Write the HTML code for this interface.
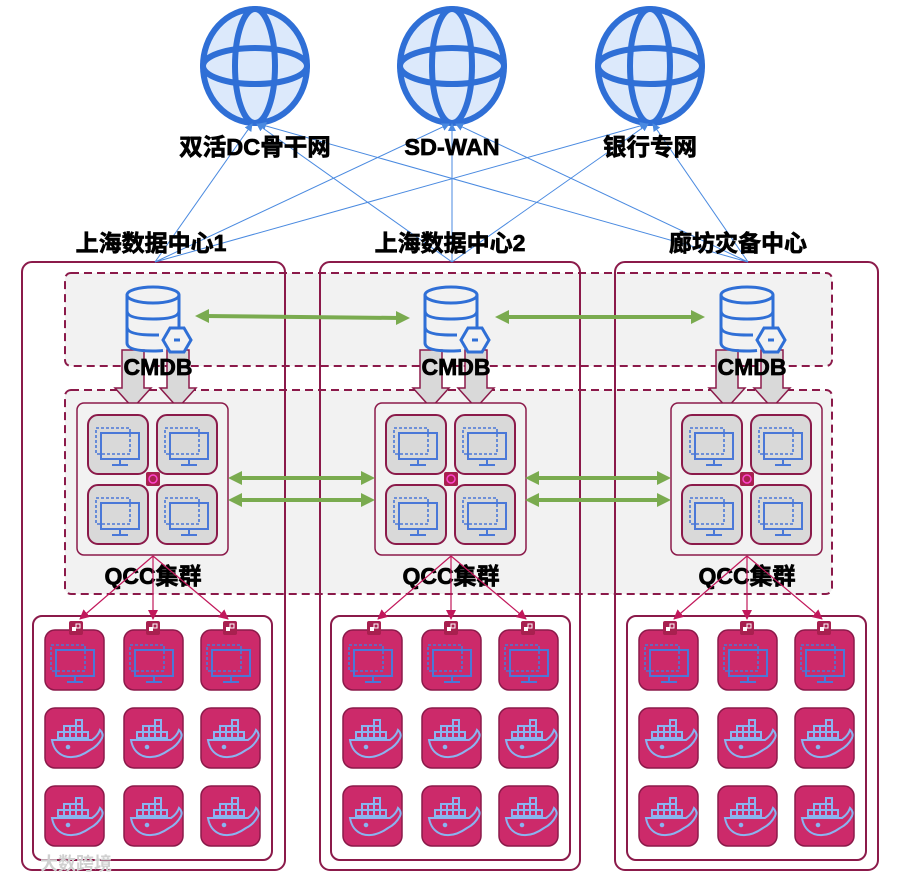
<!DOCTYPE html>
<html><head><meta charset="utf-8"><style>
html,body{margin:0;padding:0;background:#fff;}
svg{display:block}
text{font-family:"Liberation Sans","Noto Sans CJK SC",sans-serif;font-weight:bold;fill:#000;stroke:#000;stroke-width:0.7}
</style></head><body>
<svg width="906" height="882" viewBox="0 0 906 882" xmlns="http://www.w3.org/2000/svg">
<defs>
<marker id="ba" markerWidth="8" markerHeight="8" refX="7" refY="4" orient="auto" markerUnits="userSpaceOnUse"><path d="M0,0 L8,4 L0,8 z" fill="#4a8ae0"/></marker>
<marker id="pa" markerWidth="10" markerHeight="10" refX="9" refY="5" orient="auto" markerUnits="userSpaceOnUse"><path d="M0,0 L10,5 L0,10 z" fill="#c2185b"/></marker>
<symbol id="globe" viewBox="-56 -61 112 122" overflow="visible">
<ellipse cx="0" cy="0" rx="52" ry="57" fill="#dce9fb" stroke="#2f6fd6" stroke-width="6"/>
<ellipse cx="0" cy="0" rx="20" ry="57" fill="none" stroke="#2f6fd6" stroke-width="6"/>
<ellipse cx="0" cy="0" rx="52" ry="18" fill="none" stroke="#2f6fd6" stroke-width="6"/>
</symbol>
<g id="db">
<ellipse cx="0" cy="0" rx="26" ry="8" fill="none" stroke="#2f6fd6" stroke-width="3"/>
<path d="M-26,0 V48 Q-26,56 0,56 Q6,56 10,55.5 M26,0 V34" fill="none" stroke="#2f6fd6" stroke-width="3"/>
<path d="M-26,16 Q-26,24 0,24 Q26,24 26,16 M-26,32 Q-26,40 0,40 L6,40" fill="none" stroke="#2f6fd6" stroke-width="3"/>
<polygon points="10,45 17,33 31,33 38,45 31,57 17,57" fill="#f2f2f2" stroke="#2f6fd6" stroke-width="3"/>
<rect x="21" y="43.5" width="6" height="3" fill="#2f6fd6"/>
</g>
<g id="mon">
<rect x="-22" y="-15" width="34" height="26" fill="none" stroke="#4a78d8" stroke-width="1.6" stroke-dasharray="3,2"/>
<rect x="-17" y="-10" width="38" height="26" fill="none" stroke="#4a78d8" stroke-width="2"/>
<path d="M2,16 V21 M-6,22 H10" stroke="#4a78d8" stroke-width="2"/>
</g>
<g id="gtile">
<rect x="0" y="0" width="60" height="59" rx="10" fill="#d9d9d9" stroke="#8b1a4a" stroke-width="2"/>
<use href="#mon" x="30" y="28"/>
</g>
<g id="ptile">
<rect x="0" y="0" width="59" height="60" rx="10" fill="#cc2a6a" stroke="#8b1a4a" stroke-width="1.5"/>
</g>
<g id="whale" fill="none" stroke="#8ab4f0" stroke-width="2">
<path d="M-24,0 H16 Q22,-4 24,-10 Q28,-6 26,-2 Q22,6 14,10 Q0,20 -12,16 Q-22,12 -24,0 z"/>
<rect x="-18" y="-8" width="6" height="6"/><rect x="-12" y="-8" width="6" height="6"/><rect x="-6" y="-8" width="6" height="6"/><rect x="0" y="-8" width="6" height="6"/><rect x="6" y="-8" width="6" height="6"/>
<rect x="-12" y="-14" width="6" height="6"/><rect x="-6" y="-14" width="6" height="6"/><rect x="0" y="-14" width="6" height="6"/>
<rect x="0" y="-20" width="6" height="6"/>
<circle cx="-8" cy="7" r="1.3" fill="#8ab4f0"/>
</g>
<g id="badge"><rect x="-7" y="-7" width="14" height="14" rx="2" fill="#a8204f"/><rect x="-4" y="-1" width="4" height="4" fill="#fff"/><rect x="0" y="-4" width="4" height="4" fill="none" stroke="#fff" stroke-width="1"/></g>
<g id="barrow"><path d="M-11,0 H11 V38 H18 L0,58 L-18,38 H-11 z" fill="#d9d9d9" stroke="#8b1a4a" stroke-width="1.5"/></g>
<g id="dc">
<use href="#barrow" x="133" y="350"/>
<use href="#barrow" x="178" y="350"/>
<rect x="77" y="403" width="151" height="152" rx="7" fill="#f2f2f2" stroke="#8b1a4a" stroke-width="1.5"/>
<use href="#gtile" x="88" y="415"/><use href="#gtile" x="157" y="415"/>
<use href="#gtile" x="88" y="485"/><use href="#gtile" x="157" y="485"/>
<rect x="146" y="472" width="14" height="14" rx="2" fill="#a8204f"/><circle cx="153" cy="479" r="4" fill="none" stroke="#f4c" stroke-width="1.5"/>
<use href="#db" x="153" y="295"/>
<text x="158" y="375" font-size="23" text-anchor="middle">CMDB</text>
<text x="153" y="584" font-size="23" text-anchor="middle">QCC集群</text>
<rect x="33" y="616" width="239" height="244" rx="9" fill="#fff" stroke="#8b1a4a" stroke-width="2"/>
<g stroke="#c2185b" stroke-width="1.2" marker-end="url(#pa)"><line x1="153" y1="556" x2="80" y2="619"/><line x1="153" y1="556" x2="153" y2="619"/><line x1="153" y1="556" x2="228" y2="619"/></g>
<use href="#ptile" x="45" y="630"/><use href="#ptile" x="124" y="630"/><use href="#ptile" x="201" y="630"/>
<use href="#ptile" x="45" y="708"/><use href="#ptile" x="124" y="708"/><use href="#ptile" x="201" y="708"/>
<use href="#ptile" x="45" y="786"/><use href="#ptile" x="124" y="786"/><use href="#ptile" x="201" y="786"/>
<use href="#mon" x="73" y="660"/><use href="#mon" x="152" y="660"/><use href="#mon" x="229" y="660"/>
<use href="#whale" x="76" y="740"/><use href="#whale" x="155" y="740"/><use href="#whale" x="232" y="740"/>
<use href="#whale" x="76" y="818"/><use href="#whale" x="155" y="818"/><use href="#whale" x="232" y="818"/>
<use href="#badge" x="76" y="628"/><use href="#badge" x="153" y="628"/><use href="#badge" x="230" y="628"/>
</g>
</defs>

<rect x="65" y="273" width="767" height="93" rx="6" fill="#f2f2f2" stroke="#8b1a4a" stroke-width="2" stroke-dasharray="8,5"/>
<rect x="65" y="390" width="767" height="204" rx="6" fill="#f2f2f2" stroke="#8b1a4a" stroke-width="2" stroke-dasharray="8,5"/>
<rect x="22" y="262" width="263" height="608" rx="10" fill="none" stroke="#8b1a4a" stroke-width="2"/>
<rect x="320" y="262" width="260" height="608" rx="10" fill="none" stroke="#8b1a4a" stroke-width="2"/>
<rect x="615" y="262" width="263" height="608" rx="10" fill="none" stroke="#8b1a4a" stroke-width="2"/>

<use href="#dc" x="0" y="0"/>
<use href="#dc" x="298" y="0"/>
<use href="#dc" x="594" y="0"/>

<g stroke="#7aab4f" stroke-width="4" fill="none">
<line x1="205" y1="316" x2="400" y2="318"/><line x1="505" y1="317" x2="695" y2="317"/>
<line x1="240" y1="478" x2="363" y2="478"/><line x1="240" y1="500" x2="363" y2="500"/>
<line x1="537" y1="478" x2="659" y2="478"/><line x1="537" y1="500" x2="659" y2="500"/>
</g>
<g fill="#7aab4f">
<path d="M195,316 l14,-7 v14z"/><path d="M410,318 l-14,-7 v14z"/>
<path d="M495,317 l14,-7 v14z"/><path d="M705,317 l-14,-7 v14z"/>
<path d="M228,478 l14,-7 v14z"/><path d="M375,478 l-14,-7 v14z"/>
<path d="M228,500 l14,-7 v14z"/><path d="M375,500 l-14,-7 v14z"/>
<path d="M525,478 l14,-7 v14z"/><path d="M671,478 l-14,-7 v14z"/>
<path d="M525,500 l14,-7 v14z"/><path d="M671,500 l-14,-7 v14z"/>
</g>

<use href="#globe" x="199" y="5" width="112" height="122"/>
<use href="#globe" x="396" y="5" width="112" height="122"/>
<use href="#globe" x="594" y="5" width="112" height="122"/>

<g stroke="#4a8ae0" stroke-width="1" marker-end="url(#ba)">
<line x1="155" y1="262" x2="252" y2="124"/><line x1="155" y1="262" x2="449" y2="124"/><line x1="155" y1="262" x2="647" y2="124"/>
<line x1="452" y1="262" x2="257" y2="124"/><line x1="452" y1="262" x2="452" y2="124"/><line x1="452" y1="262" x2="648" y2="124"/>
<line x1="748" y1="262" x2="259" y2="124"/><line x1="748" y1="262" x2="456" y2="124"/><line x1="748" y1="262" x2="653" y2="124"/>
</g>

<text x="255" y="155" font-size="23.5" text-anchor="middle">双活DC骨干网</text>
<text x="452" y="155" font-size="23.5" text-anchor="middle">SD-WAN</text>
<text x="650" y="155" font-size="23.5" text-anchor="middle">银行专网</text>
<text x="151" y="251" font-size="23" text-anchor="middle">上海数据中心1</text>
<text x="450" y="251" font-size="23" text-anchor="middle">上海数据中心2</text>
<text x="738" y="251" font-size="23" text-anchor="middle">廊坊灾备中心</text>
<text x="40" y="870" font-size="18" style="fill:#d0d0d0;stroke:none">大数跨境</text>
</svg>
</body></html>
